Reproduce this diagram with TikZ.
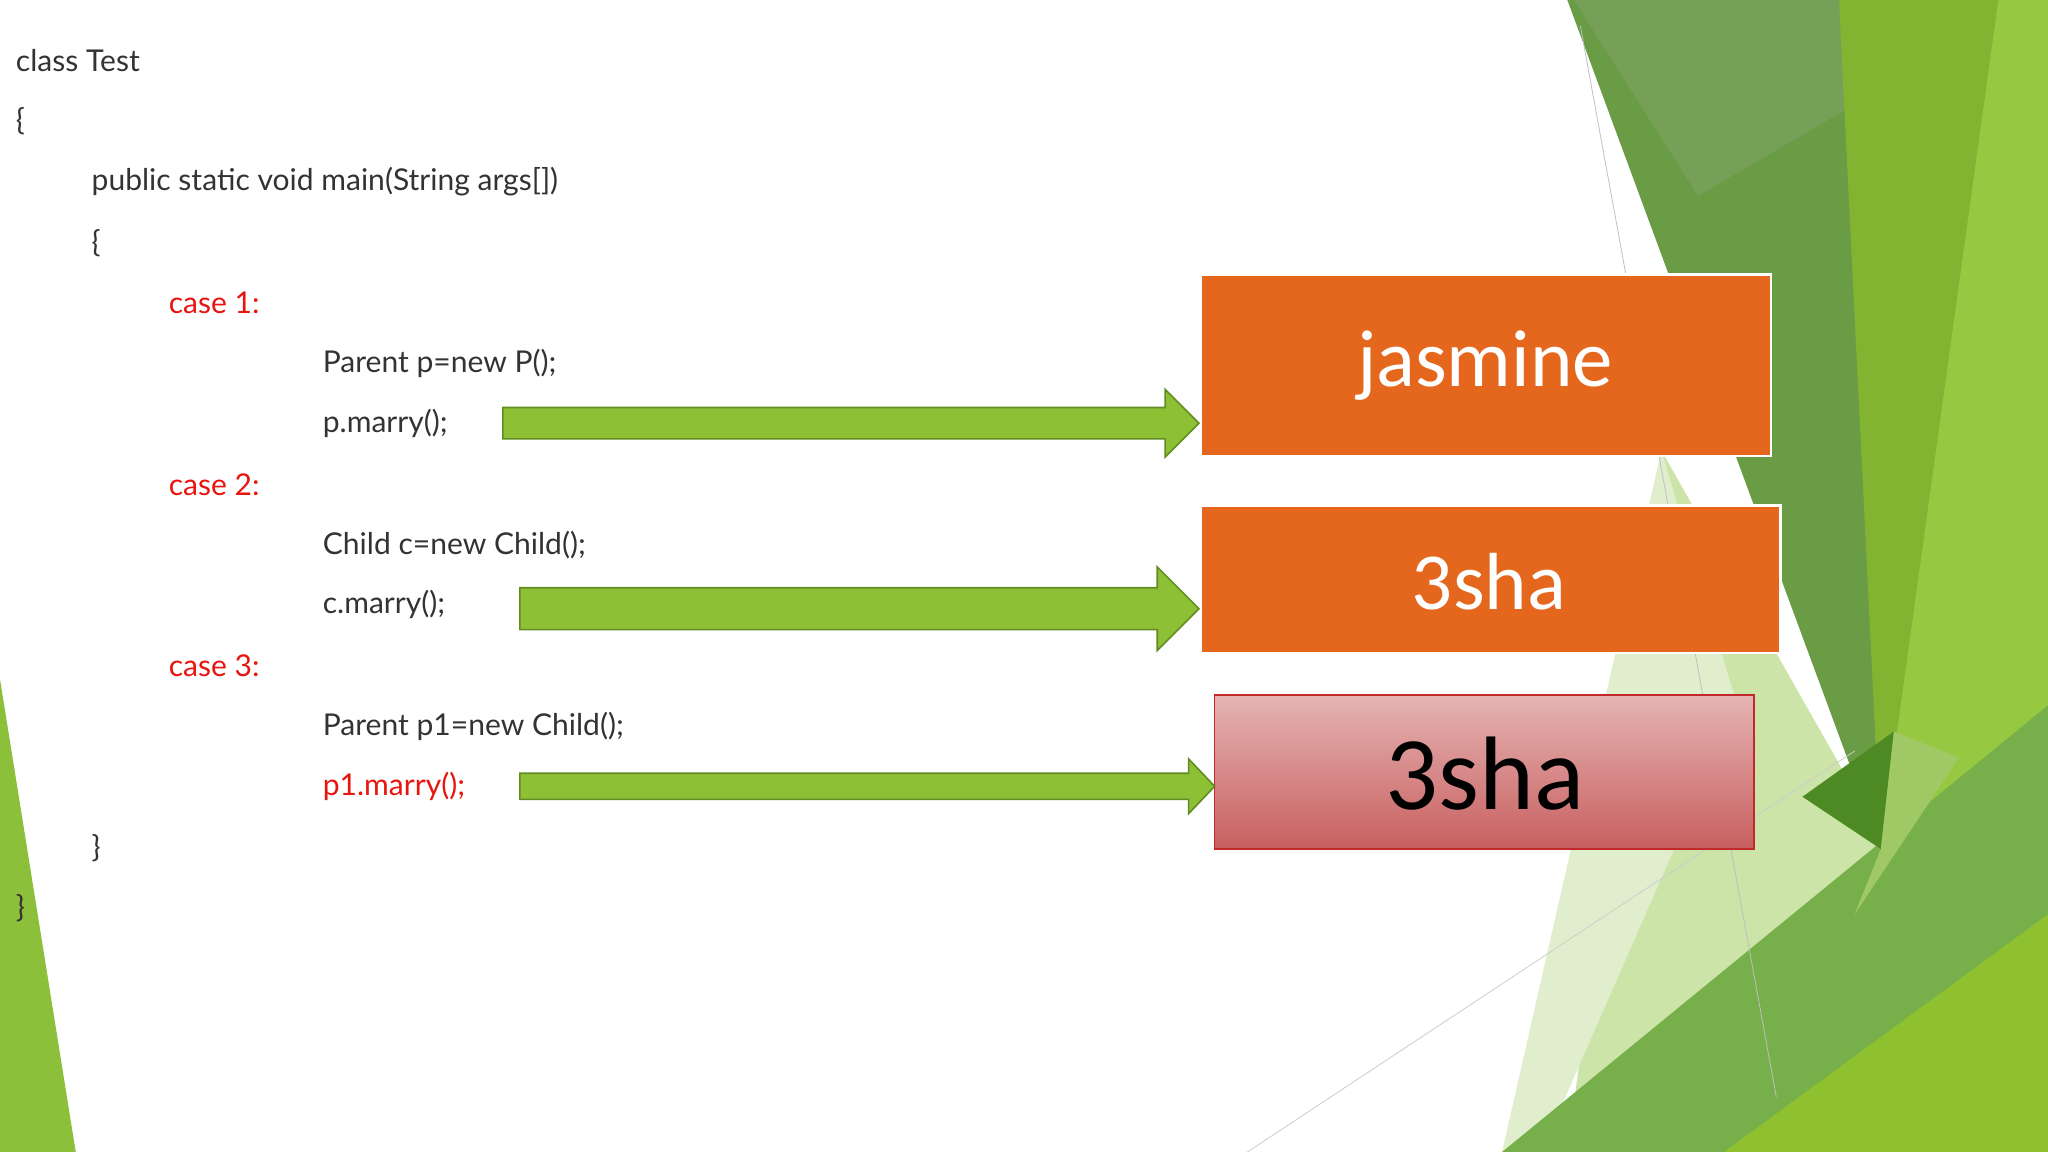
\documentclass[tikz,border=0pt]{standalone}
\usepackage{fontspec}
\setmainfont{Lato}
\newfontfamily\boxfont{Carlito}
\definecolor{codered}{HTML}{E8150F}
\definecolor{agreen}{HTML}{8DC034}
\definecolor{adkgreen}{HTML}{628C23}
\definecolor{orng}{HTML}{E5671E}
\definecolor{pale}{HTML}{CDE4A8}
\definecolor{paler}{HTML}{E1EECD}
\definecolor{dkband}{HTML}{6A9B45}
\definecolor{dkbandtop}{HTML}{76A058}
\definecolor{lime}{HTML}{82B432}
\definecolor{limelt}{HTML}{96C841}
\definecolor{midgreen}{HTML}{77B04A}
\definecolor{deepgreen}{HTML}{4E8A23}
\definecolor{softgreen}{HTML}{A0C864}
\definecolor{limebot}{HTML}{8FC030}
\definecolor{leftgreen}{HTML}{8DC03A}
\definecolor{pinktop}{HTML}{E6B4B4}
\definecolor{pinkbot}{HTML}{C85F5F}
\definecolor{redborder}{HTML}{C0282A}
\begin{document}
\begin{tikzpicture}[x=1pt,y=-1pt,
 code/.style={anchor=west,inner sep=0pt,text=black!80,font=\fontsize{23}{26}\selectfont},
 redcode/.style={code,text=codered},
 blockarrow/.style={fill=agreen,draw=adkgreen,line width=1.2pt},
 obox/.style={fill=orng,draw=white,line width=2pt},
 boxtext/.style={font=\boxfont\fontsize{62}{70}\selectfont,text=white}]
\useasboundingbox (0,0) rectangle (1568,882);
\fill[white] (0,0) rectangle (1568,882);
% background shapes
\fill[pale] (1272,345) -- (1445,650) -- (1180,882) -- (1200,882) -- cycle;
\fill[paler] (1272,345) -- (1330,540) -- (1180,882) -- (1150,882) -- cycle;
\fill[dkband] (1200,0) -- (1410,0) -- (1440,650) -- cycle;
\fill[dkbandtop] (1205,0) -- (1410,0) -- (1420,80) -- (1300,150) -- cycle;
\fill[lime] (1408,0) -- (1568,0) -- (1568,882) -- (1440,650) -- cycle;
\fill[limelt] (1530,0) -- (1568,0) -- (1568,882) -- (1430,882) -- (1440,650) -- cycle;
\fill[midgreen] (1150,882) -- (1568,540) -- (1568,882) -- cycle;
\fill[deepgreen] (1380,610) -- (1450,560) -- (1440,650) -- cycle;
\fill[softgreen] (1450,560) -- (1500,580) -- (1420,700) -- (1440,650) -- cycle;
\fill[limebot] (1320,882) -- (1568,700) -- (1568,882) -- cycle;
\fill[leftgreen] (0,520) -- (58,882) -- (0,882) -- cycle;
\draw[black!25,line width=0.6pt] (1210,20) -- (1360,840);
\draw[black!20,line width=0.6pt] (955,882) -- (1420,575);
% code
\node[code] (l1) at (12,46) {class Test};
\node[code] (l2) at (12,93) {\{};
\node[code] (l3) at (70,139) {public static void main(String args[])};
\node[code] (l4) at (70,186) {\{};
\node[redcode] (l5) at (129,232) {case 1:};
\node[code] (l6) at (247,278) {Parent p=new P();};
\node[code] (l7) at (247,324) {p.marry();};
\node[redcode] (l8) at (129,371) {case 2:};
\node[code] (l9) at (247,417) {Child c=new Child();};
\node[code] (l10) at (247,463) {c.marry();};
\node[redcode] (l11) at (129,510) {case 3:};
\node[code] (l12) at (247,556) {Parent p1=new Child();};
\node[redcode] (l13) at (247,602) {p1.marry();};
\node[code] (l14) at (70,649) {\}};
\node[code] (l15) at (12,695) {\}};
% boxes
\path[obox] (919,210) rectangle (1356,349);
\node[boxtext] (b1) at (1137,280) {jasmine};
\path[obox] (919,387) rectangle (1363,500);
\node[boxtext] (b2) at (1140,445) {3sha};
\shade[top color=pinktop,bottom color=pinkbot] (930,532) rectangle (1343,650);
\draw[redborder,line width=1.2pt] (930,532) rectangle (1343,650);
\node[font=\boxfont\fontsize{80}{90}\selectfont,text=black] (b3) at (1137,592) {3sha};
% arrows
\draw[blockarrow] (385,312) -- (892,312) -- (892,298) -- (918,324) -- (892,350) -- (892,336) -- (385,336) -- cycle;
\draw[blockarrow] (398,450) -- (886,450) -- (886,434) -- (918,466) -- (886,498) -- (886,482) -- (398,482) -- cycle;
\draw[blockarrow] (398,592) -- (910,592) -- (910,581) -- (930,602) -- (910,623) -- (910,612) -- (398,612) -- cycle;
\end{tikzpicture}
\end{document}
